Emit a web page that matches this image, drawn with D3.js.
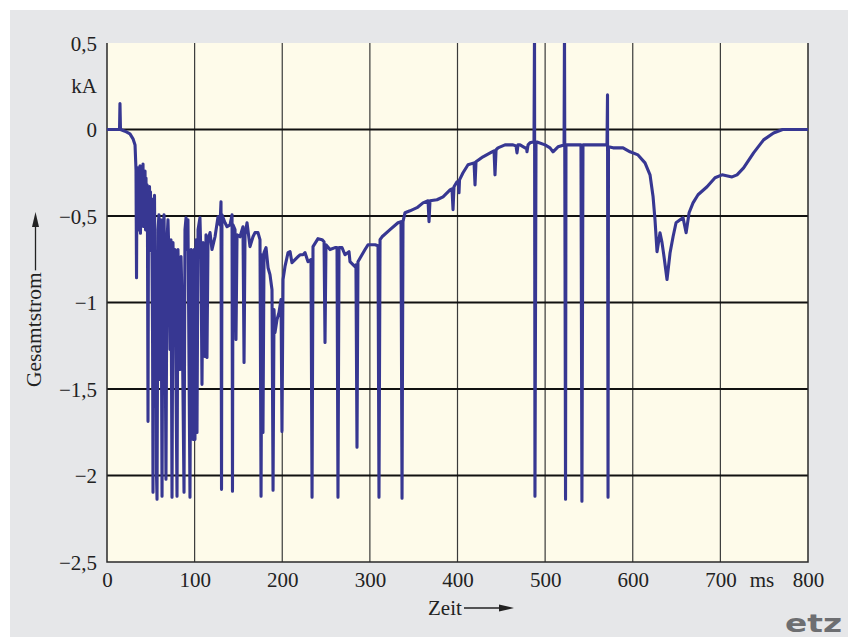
<!DOCTYPE html>
<html><head><meta charset="utf-8">
<script src="https://cdn.jsdelivr.net/npm/d3@7"></script>
<style>html,body{margin:0;padding:0;background:#fff;}svg{display:block;}</style>
</head><body>
<svg id="c" width="848" height="637"></svg>
<script>
// Data: time in ms, total current in kA
const timeMs = [0,14.3,14.8,15.4,20.5,26.2,29.7,32.0,
33.1,33.7,34.2,34.8,35.4,35.9,36.5,37.1,37.7,38.2,38.8,39.4,39.9,40.5,41.1,41.6,42.2,42.8,43.4,44.0,44.5,45.1,45.7,46.2,46.8,47.4,47.9,48.5,49.1,49.6,50.2,50.8,51.4,52.0,52.5,53.1,53.6,54.2,54.8,55.3,55.9,56.5,57.1,
58.2,59.3,60.5,61.6,62.8,63.9,65.1,66.2,67.3,68.5,69.6,70.8,71.9,73.0,74.2,75.3,76.5,77.6,78.7,79.9,81.0,83.3,84.5,85.6,87.9,89.0,90.2,91.3,92.4,94.7,95.9,97.0,98.2,99.3,100.4,101.6,102.7,103.9,106.1,107.3,108.4,109.6,111.8,113.0,114.1,115.3,117.6,119.8,123.3,126.7,129.0,130.1,130.7,131.2,134.7,137.0,140.4,142.7,143.2,143.8,146.1,147.2,148.4,151.8,155.2,156.4,157.5,159.8,163.2,166.6,168.9,172.3,174.6,175.8,176.9,178.0,179.2,181.5,183.8,186.0,188.3,189.5,190.6,191.7,194.0,196.3,198.6,199.7,200.9,203.1,206.6,208.9,211.1,214.6,218.0,220.3,223.7,226.0,229.4,232.8,234.0,235.1,240.8,245.4,247.7,248.8,249.9,254.5,260.2,262.5,263.6,264.8,268.2,271.6,276.2,277.3,283.0,284.1,285.3,286.4,291.0,294.5,297.9,305.9,309.3,310.4,311.6,313.9,323.0,332.1,335.5,336.7,337.8,340.1,345.8,353.8,360.6,366.4,367.5,368.6,376.6,383.5,391.5,393.7,394.9,396.0,399.4,401.2,401.7,402.3,406.3,412.0,418.9,420.0,421.1,429.1,439.4,441.7,442.8,444.0,446.2,454.2,463.4,466.8,467.9,469.1,471.4,477.1,478.8,479.3,480.5,482.7,486.2,487.3,487.9,488.4,489.6,490.7,499.9,505.6,509.0,514.7,521.6,522.1,523.3,523.8,528.3,540.9,542.0,543.2,551.2,570.6,571.2,571.8,572.3,577.5,588.9,596.9,606.0,614.0,619.7,623.2,625.4,627.7,631.1,633.4,635.7,639.1,642.6,646.0,649.4,654.0,657.4,660.9,664.3,668.8,674.5,684.8,693.9,701.9,713.3,719.0,726.5,737.9,749.3,760.7,771.0,800];
const currentKA = [0,0,0.15,0,-0.01,-0.025,-0.054,-0.089,
-0.233,-0.857,-0.262,-0.55,-0.222,-0.58,-0.25,-0.52,-0.21,-0.60,-0.25,-0.55,-0.22,-0.50,-0.20,-0.56,-0.25,-0.52,-0.24,-0.58,-0.28,-0.55,-0.32,-0.60,-1.687,-0.35,-0.62,-0.33,-0.65,-0.36,-0.70,-0.40,-0.75,-1.2,-2.097,-0.45,-0.80,-0.38,-0.9,-1.6,-0.983,-2.0,-2.137,
-0.579,-0.493,-1.445,-0.522,-2.120,-0.579,-0.493,-0.983,-2.022,-0.637,-0.522,-0.752,-1.272,-0.637,-2.126,-0.654,-0.983,-0.694,-1.445,-2.120,-0.694,-1.387,-0.735,-0.983,-2.097,-0.579,-0.510,-0.694,-0.522,-2.126,-0.694,-0.752,-1.791,-0.694,-1.791,-0.637,-1.751,-0.579,-0.510,-0.752,-1.473,-0.654,-1.312,-0.608,-1.318,-0.637,-0.596,-0.694,-0.620,-0.504,-0.551,-0.418,-2.080,-0.493,-0.539,-0.562,-0.551,-0.493,-2.091,-0.551,-0.579,-1.214,-0.608,-0.620,-0.562,-1.347,-0.608,-0.539,-0.677,-0.620,-0.596,-0.596,-0.637,-2.120,-0.724,-1.751,-0.712,-0.683,-0.799,-0.839,-0.926,-2.085,-1.041,-1.174,-1.099,-1.058,-0.983,-1.745,-0.867,-0.793,-0.712,-0.706,-0.770,-0.752,-0.735,-0.724,-0.724,-0.712,-0.764,-0.752,-2.126,-0.677,-0.631,-0.637,-0.649,-1.231,-0.666,-0.694,-0.683,-0.683,-2.126,-0.683,-0.683,-0.724,-0.706,-0.764,-0.793,-0.782,-1.837,-0.764,-0.724,-0.694,-0.666,-0.666,-0.672,-2.126,-0.637,-0.620,-0.579,-0.539,-0.533,-2.131,-0.533,-0.481,-0.470,-0.452,-0.424,-0.412,-0.533,-0.412,-0.406,-0.389,-0.349,-0.343,-0.464,-0.331,-0.302,-0.302,-0.366,-0.291,-0.250,-0.204,-0.193,-0.320,-0.187,-0.158,-0.129,-0.123,-0.262,-0.118,-0.106,-0.089,-0.089,-0.095,-0.135,-0.089,-0.089,-0.106,-0.106,-0.129,-0.089,-0.077,-0.072,-0.072,0.6,-2.120,-0.072,-0.072,-0.089,-0.106,-0.129,-0.100,-0.089,0.6,-2.137,-0.089,-0.089,-0.089,-2.149,-0.089,-0.089,-0.089,0.200,-2.126,-0.100,-0.106,-0.106,-0.129,-0.147,-0.193,-0.262,-0.389,-0.522,-0.706,-0.597,-0.654,-0.735,-0.867,-0.712,-0.620,-0.539,-0.522,-0.510,-0.597,-0.481,-0.424,-0.377,-0.331,-0.279,-0.262,-0.274,-0.262,-0.222,-0.135,-0.060,-0.020,0,0];
const xTicks = [0,100,200,300,400,500,600,700,800];
const yTicks = [0.5,0,-0.5,-1,-1.5,-2,-2.5];
const yGridLines = [0,-0.5,-1,-1.5,-2];
const xGridLines = [100,200,300,400,500,600,700];

const svg = d3.select("#c");
const M = {l:107, r:808, t:43, b:562};
const x = d3.scaleLinear().domain([0,800]).range([M.l, M.r]);
const y = d3.scaleLinear().domain([-2.5,0.5]).range([M.b, M.t]);
const serif = "'Liberation Serif','DejaVu Serif',serif";

svg.append("rect").attr("x",10).attr("y",10).attr("width",838).attr("height",627).attr("fill","#e6e7e9");
svg.append("rect").attr("x",M.l).attr("y",M.t).attr("width",M.r-M.l).attr("height",M.b-M.t).attr("fill","#fefbea");

svg.append("defs").append("clipPath").attr("id","pc").append("rect")
  .attr("x",M.l).attr("y",M.t).attr("width",M.r-M.l).attr("height",M.b-M.t);

svg.append("g").selectAll("line").data(xGridLines).join("line")
  .attr("x1",d=>x(d)).attr("x2",d=>x(d)).attr("y1",M.t).attr("y2",M.b)
  .attr("stroke","#3a3a3a").attr("stroke-width",1.2);
svg.append("g").selectAll("line").data(yGridLines).join("line")
  .attr("x1",M.l).attr("x2",M.r).attr("y1",d=>y(d)).attr("y2",d=>y(d))
  .attr("stroke","#111").attr("stroke-width",2);
svg.append("path").attr("d",`M${M.l},${M.t}V${M.b}H${M.r}V${M.t}`)
  .attr("fill","none").attr("stroke","#2a2a2a").attr("stroke-width",1.5);

const n = Math.min(timeMs.length, currentKA.length);
const pts = timeMs.slice(0,n).map((t,i)=>[t,currentKA[i]]);
svg.append("path").datum(pts).attr("clip-path","url(#pc)")
  .attr("d", d3.line().x(d=>x(d[0])).y(d=>y(d[1])))
  .attr("fill","none").attr("stroke","#373792").attr("stroke-width",3.1)
  .attr("stroke-linejoin","round").attr("stroke-linecap","round");

const xAxis = d3.axisBottom(x).tickValues(xTicks).tickSize(0).tickPadding(0).tickFormat(d3.format("d"));
const gx = svg.append("g").attr("transform",`translate(0,${M.b})`).call(xAxis);
gx.select(".domain").remove();
gx.selectAll("text").attr("dy",null).attr("y",25).attr("font-family",serif).attr("font-size",21).attr("fill","#222");

const fmtY = d => (d<0?"\u2212":"") + String(Math.abs(d)).replace(".",",");
const yAxis = d3.axisLeft(y).tickValues(yTicks).tickSize(0).tickPadding(10).tickFormat(fmtY);
const gy = svg.append("g").attr("transform",`translate(${M.l},0)`).call(yAxis);
gy.select(".domain").remove();
gy.selectAll("text").attr("dy","0.35em").attr("font-family",serif).attr("font-size",21).attr("fill","#222");

svg.append("text").attr("x",97).attr("y",93).attr("text-anchor","end")
  .attr("font-family",serif).attr("font-size",21).attr("fill","#222").text("kA");
svg.append("text").attr("x",762).attr("y",587).attr("text-anchor","middle")
  .attr("font-family",serif).attr("font-size",21).attr("fill","#222").text("ms");

svg.append("text").attr("x",428).attr("y",615).attr("font-family",serif).attr("font-size",21).attr("fill","#222").text("Zeit");
svg.append("line").attr("x1",464).attr("x2",500).attr("y1",608).attr("y2",608).attr("stroke","#222").attr("stroke-width",1.3);
svg.append("path").attr("d","M499,604.5L514,608L499,611.5Z").attr("fill","#222");

const yt = svg.append("text").attr("transform","translate(41,387) rotate(-90)").attr("font-family",serif).attr("font-size",21.5).attr("fill","#222").text("Gesamtstrom");
const L = yt.node().getComputedTextLength();
const a0 = 387 - L - 2;
svg.append("line").attr("x1",35.5).attr("x2",35.5).attr("y1",a0).attr("y2",226).attr("stroke","#222").attr("stroke-width",1.3);
svg.append("path").attr("d","M32,227L35.5,212L39,227Z").attr("fill","#222");

svg.append("text").attr("x",785).attr("y",632).attr("font-family","'DejaVu Sans',sans-serif").attr("font-weight","bold")
  .attr("font-size",25).attr("fill","#6d6e71").attr("textLength",57).attr("lengthAdjust","spacingAndGlyphs").text("etz");
</script>
</body></html>
